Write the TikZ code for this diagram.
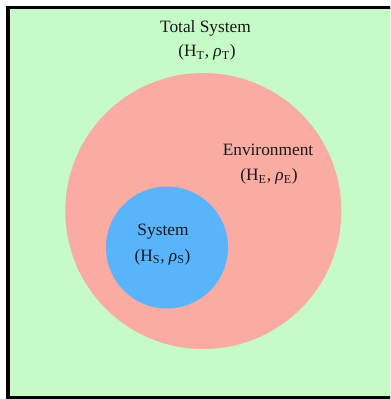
\documentclass[tikz,border=0pt]{standalone}
\usepackage{fontspec}
\setmainfont{Liberation Serif}
\definecolor{totalgreen}{RGB}{198,250,198}
\definecolor{envpink}{RGB}{250,172,162}
\definecolor{sysblue}{RGB}{90,180,252}
\newcommand{\lbl}[2]{(H\textsubscript{#1}, \textit{ρ}\textsubscript{#1})}
\begin{document}
\begin{tikzpicture}[x=0.75pt,y=-0.75pt,
  txt/.style={font=\fontsize{13}{15}\selectfont, text=black!90, align=center, inner sep=0pt},
  region/.style={circle, draw=none, inner sep=0pt}]
\useasboundingbox (0,0) rectangle (390,399);
\clip (0,0) rectangle (390,399);
\fill[white] (0,0) rectangle (390,399);
\draw[line width=2.6pt, fill=totalgreen] (8,7.5) rectangle (398,397.5);
\node[region, fill=envpink, minimum size=276*0.75pt] (env) at (203.3,211) {};
\node[region, fill=sysblue, minimum size=122*0.75pt] (sys) at (167,247.5) {};
\node[txt] (totT) at (205.5,28) {Total System};
\node[txt] (totL) at (207,52.5) {\lbl{T}{T}};
\node[txt] (envT) at (268,150) {Environment};
\node[txt] (envL) at (269,176.5) {\lbl{E}{E}};
\node[txt] (sysT) at (163,231.5) {System};
\node[txt] (sysL) at (162.5,257) {\lbl{S}{S}};
\end{tikzpicture}
\end{document}
